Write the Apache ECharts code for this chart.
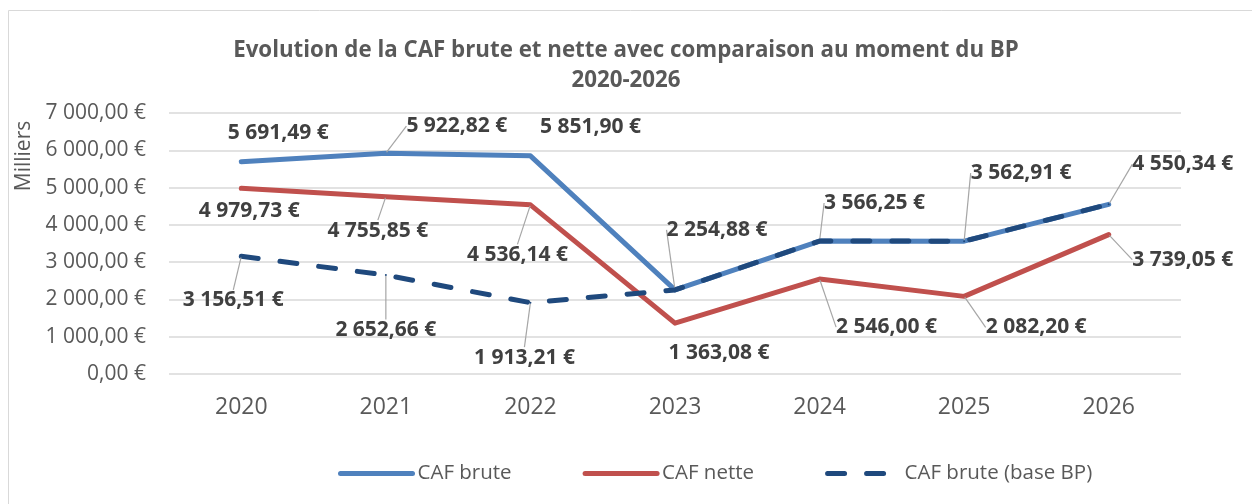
<!DOCTYPE html>
<html>
<head>
<meta charset="utf-8">
<script src="https://cdn.jsdelivr.net/npm/echarts@6/dist/echarts.min.js"></script>
<style>
  html, body { margin: 0; padding: 0; background: #fff; }
  #chart { width: 1252px; height: 504px; }
</style>
</head>
<body>
<div id="chart"></div>
<script>
// années
const years = ['2020', '2021', '2022', '2023', '2024', '2025', '2026']
// valeurs en milliers d'euros
const cafBrute = [5691.49, 5922.82, 5851.90, 2254.88, 3566.25, 3562.91, 4550.34]
const cafNette = [4979.73, 4755.85, 4536.14, 1363.08, 2546.00, 2082.20, 3739.05]
const cafBruteBP = [3156.51, 2652.66, 1913.21, 2254.88, 3566.25, 3562.91, 4550.34]

const font = '"Open Sans", "DejaVu Sans", sans-serif'

// décalage des étiquettes par rapport au point (dx, dy)
const offBrute = [[37, -29], [71, -27], [60, -29], [42, -60], [55, -38], [57, -68], [74, -40]]
const offNette = [[8, 23], [-8, 34], [-13, 50], [44, 30], [67, 48], [72, 31], [74, 25]]
const offBP = [[-8, 44], [0, 55], [-6, 55], [0, 0], [0, 0], [0, 0], [0, 0]]
// étiquettes sans trait de rappel
const noLineBrute = [0, 2]
const noLineNette = [0, 3]

function fmt(v) {
  const parts = v.toFixed(2).split('.')
  const ent = parts[0].replace(/\B(?=(\d{3})+(?!\d))/g, ' ')
  return ent + ',' + parts[1] + ' €'
}

function items(values, noLine, hidden) {
  return values.map((v, i) => {
    const it = { value: v }
    if (noLine && noLine.indexOf(i) >= 0) it.labelLine = { show: false }
    if (hidden && hidden.indexOf(i) >= 0) it.label = { show: false }
    return it
  })
}

const labelStyle = {
  show: true,
  position: 'inside',
  formatter: p => fmt(p.value),
  fontFamily: font,
  fontWeight: 'bold',
  fontSize: 21,
  color: '#404040'
}
const leader = {
  show: true,
  lineStyle: { color: '#a6a6a6', width: 1.2 }
}

const chart = echarts.init(document.getElementById('chart'))
chart.setOption({
  animation: false,
  title: {
    text: 'Evolution de la CAF brute et nette avec comparaison au moment du BP\n2020-2026',
    left: 'center',
    top: 31,
    textStyle: {
      fontFamily: font,
      fontWeight: 'bold',
      fontSize: 22.3,
      lineHeight: 30,
      color: '#595959'
    }
  },
  graphic: [
    {
      type: 'rect',
      z: -10,
      shape: { x: 8.5, y: 10.5, width: 1300, height: 600 },
      style: { fill: 'none', stroke: '#d9d9d9', lineWidth: 1 }
    },
    {
      type: 'text',
      x: 24,
      y: 156,
      rotation: Math.PI / 2,
      style: {
        text: 'Milliers',
        fontFamily: font,
        fontSize: 21,
        fill: '#595959',
        align: 'center',
        verticalAlign: 'middle'
      }
    }
  ],
  legend: {
    left: 333,
    top: 458,
    itemWidth: 72,
    itemHeight: 6,
    itemGap: 71,
    itemStyle: { opacity: 0 },
    lineStyle: { width: 5, cap: 'round' },
    textStyle: { fontFamily: font, fontSize: 20.5, color: '#595959' },
    data: ['CAF brute', 'CAF nette', 'CAF brute (base BP)']
  },
  grid: { left: 169, right: 71, top: 113, bottom: 130 },
  xAxis: {
    type: 'category',
    data: years,
    boundaryGap: true,
    axisLine: { show: false },
    axisTick: { show: false },
    axisLabel: { fontFamily: font, fontSize: 23, color: '#595959', margin: 22 }
  },
  yAxis: {
    type: 'value',
    min: 0,
    max: 7000,
    interval: 1000,
    axisLine: { show: false },
    axisTick: { show: false },
    splitLine: { lineStyle: { color: '#d9d9d9', width: 1.5 } },
    axisLabel: { fontFamily: font, fontSize: 21, color: '#595959', margin: 23, formatter: v => fmt(v) }
  },
  series: [
    {
      name: 'CAF brute',
      type: 'line',
      z: 3,
      symbol: 'circle',
      symbolSize: 2,
      data: items(cafBrute, noLineBrute),
      lineStyle: { color: '#4F81BD', width: 5, cap: 'round', join: 'round' },
      itemStyle: { color: '#4F81BD' },
      label: labelStyle,
      labelLine: leader,
      labelLayout: p => ({ dx: offBrute[p.dataIndex][0], dy: offBrute[p.dataIndex][1] })
    },
    {
      name: 'CAF nette',
      type: 'line',
      z: 3,
      symbol: 'circle',
      symbolSize: 2,
      data: items(cafNette, noLineNette),
      lineStyle: { color: '#C0504D', width: 5, cap: 'round', join: 'round' },
      itemStyle: { color: '#C0504D' },
      label: labelStyle,
      labelLine: leader,
      labelLayout: p => ({ dx: offNette[p.dataIndex][0], dy: offNette[p.dataIndex][1] })
    },
    {
      name: 'CAF brute (base BP)',
      type: 'line',
      z: 4,
      symbol: 'circle',
      symbolSize: 2,
      data: items(cafBruteBP, null, [3, 4, 5, 6]),
      lineStyle: { color: '#1F497D', width: 5, type: [17, 22], cap: 'round', join: 'round' },
      itemStyle: { color: '#1F497D' },
      label: labelStyle,
      labelLine: leader,
      labelLayout: p => ({ dx: offBP[p.dataIndex][0], dy: offBP[p.dataIndex][1] })
    }
  ]
})
</script>
</body>
</html>
